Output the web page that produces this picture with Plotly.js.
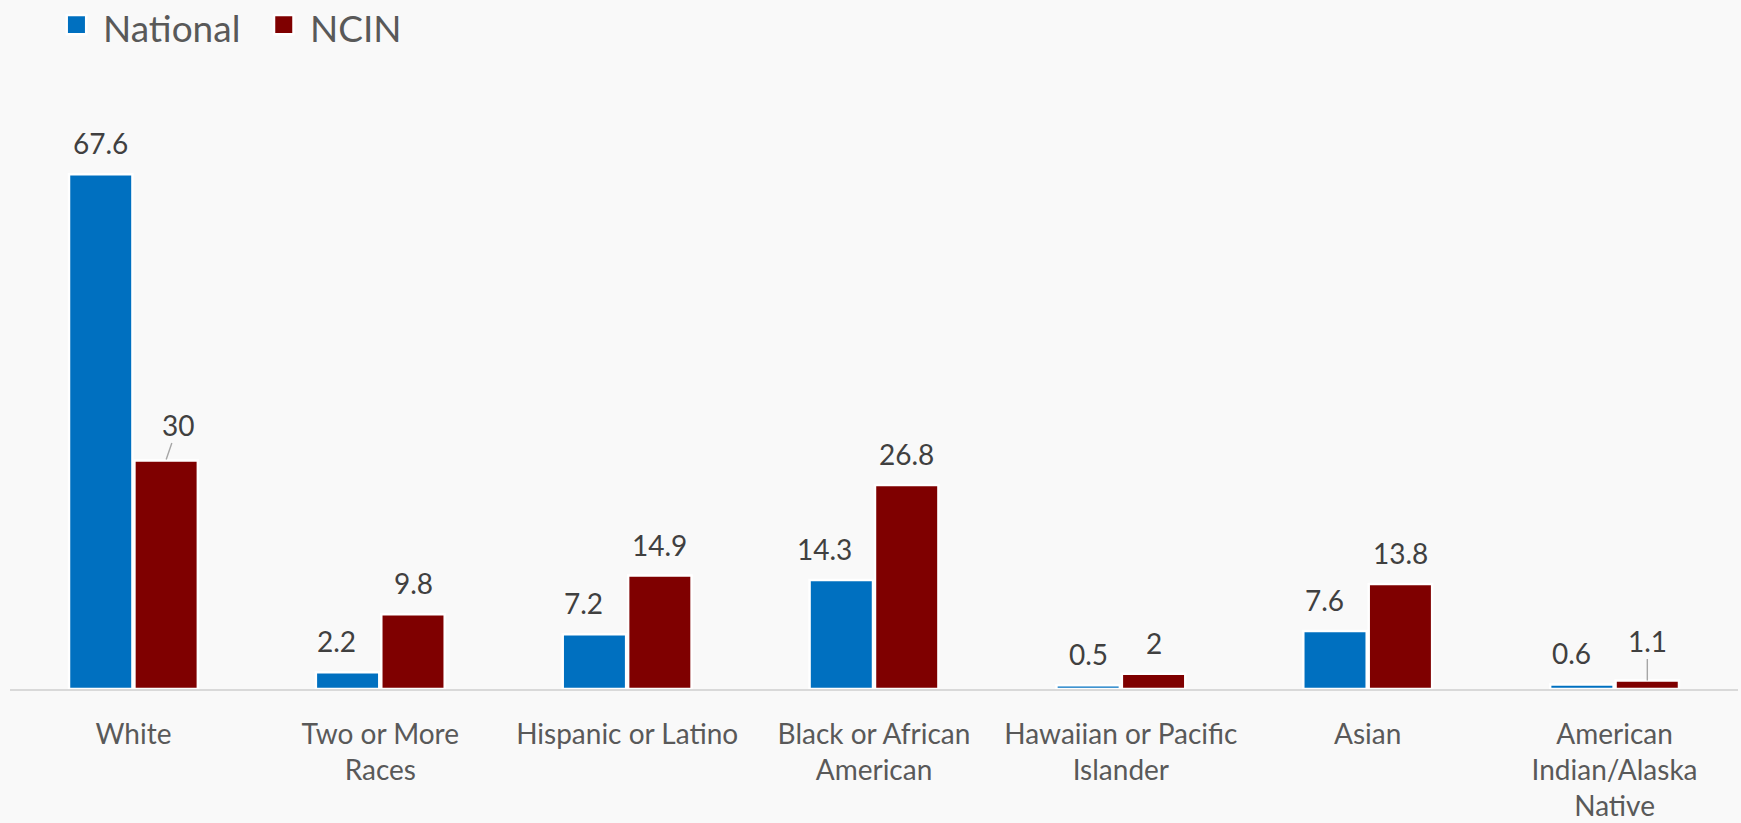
<!DOCTYPE html>
<html>
<head>
<meta charset="utf-8">
<script src="https://cdn.plot.ly/plotly-3.0.1.min.js"></script>
<style>
  html, body { margin: 0; padding: 0; background: #F9F9F9; }
  #chart { width: 1741px; height: 823px; }
</style>
</head>
<body>
<div id="chart"></div>
<script>
// ---- data ----
const categories = [
  "White",
  "Two or More<br>Races",
  "Hispanic or Latino",
  "Black or African<br>American",
  "Hawaiian or Pacific<br>Islander",
  "Asian",
  "American<br>Indian/Alaska<br>Native"
];
const nationalValues = [67.6, 2.2, 7.2, 14.3, 0.5, 7.6, 0.6];
const ncinValues     = [30, 9.8, 14.9, 26.8, 2, 13.8, 1.1];
const seriesNames = ["National", "NCIN"];

// ---- styles ----
const colors = ["#0070C0", "#7F0000"];
const FONT = "Lato, 'Open Sans', sans-serif";
const barHalfOffset = 32.75;                    // px from category centre to bar centre
const nationalLabelNudge = [0, -11, -11, -17, 0, -10, -10]; // px
const labelLift = 12;                            // px above bar top

const traces = [nationalValues, ncinValues].map((vals, i) => ({
  type: "bar",
  name: seriesNames[i],
  x: categories,
  y: vals,
  marker: { color: colors[i], line: { color: "#FFFFFF", width: 2.5 } },
  hoverinfo: "skip",
  showlegend: false
}));

const annotations = [];
const labelFont = { family: FONT, size: 28, color: "#404040" };
nationalValues.forEach((v, k) => {
  annotations.push({
    xref: "x", yref: "y", x: categories[k], y: v,
    text: String(v), showarrow: false,
    xanchor: "center", yanchor: "bottom",
    xshift: -barHalfOffset + nationalLabelNudge[k], yshift: labelLift,
    font: labelFont
  });
});
ncinValues.forEach((v, k) => {
  const base = {
    xref: "x", yref: "y", x: categories[k], y: v,
    text: String(v), font: labelFont, xshift: barHalfOffset
  };
  if (k === 0) {
    Object.assign(base, { showarrow: true, arrowhead: 0, arrowwidth: 1.4,
      arrowcolor: "#A6A6A6", ax: 12, ay: -35, yshift: 1, standoff: 0 });
  } else if (k === 6) {
    Object.assign(base, { showarrow: true, arrowhead: 0, arrowwidth: 1.4,
      arrowcolor: "#A6A6A6", ax: 0, ay: -40, yshift: 0 });
  } else {
    Object.assign(base, { showarrow: false, xanchor: "center", yanchor: "bottom", yshift: labelLift });
  }
  annotations.push(base);
});

// custom legend
const legendX = [56.7, 264];
const legendTextX = [90.7, 298.3];
const shapes = [];
seriesNames.forEach((name, i) => {
  shapes.push({
    type: "rect", xref: "paper", yref: "paper",
    xsizemode: "pixel", ysizemode: "pixel",
    xanchor: 0, yanchor: 1,
    x0: legendX[i], x1: legendX[i] + 19.5,
    y0: 60.7, y1: 80,
    fillcolor: colors[i], line: { color: "#FFFFFF", width: 2.5 }
  });
  annotations.push({
    xref: "paper", yref: "paper", x: 0, y: 1,
    xanchor: "left", yanchor: "middle",
    xshift: legendTextX[i], yshift: 68,
    text: name, showarrow: false,
    font: { family: FONT, size: 37, color: "#595959" }
  });
});

const layout = {
  width: 1741, height: 823,
  paper_bgcolor: "#F9F9F9", plot_bgcolor: "#F9F9F9",
  margin: { l: 10, r: 3, t: 95, b: 134 },
  barmode: "group", bargap: 0.47, bargroupgap: 0.03,
  showlegend: false,
  xaxis: {
    type: "category",
    showline: true, linecolor: "#D9D9D9", linewidth: 2,
    showgrid: false, zeroline: false, ticks: "",
    ticklabelstandoff: 19,
    tickfont: { family: FONT, size: 28, color: "#595959" },
    fixedrange: true
  },
  yaxis: {
    range: [0, 78], visible: false, showgrid: false, zeroline: false,
    fixedrange: true
  },
  shapes: shapes,
  annotations: annotations
};

Plotly.newPlot("chart", traces, layout, { displayModeBar: false, staticPlot: true });
</script>
</body>
</html>
